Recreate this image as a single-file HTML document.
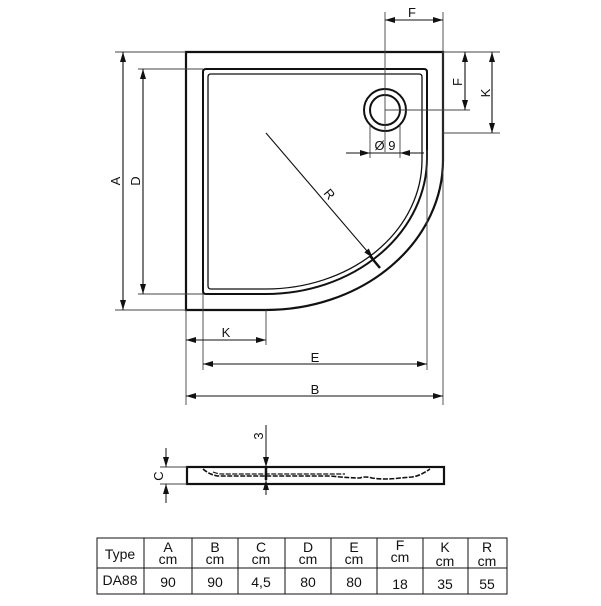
<!DOCTYPE html>
<html><head><style>
body{margin:0;background:#fff;width:601px;height:601px;overflow:hidden}
svg text{font-family:"Liberation Sans",sans-serif;fill:#111}
</style></head><body>
<svg width="601" height="601" viewBox="0 0 601 601" xmlns="http://www.w3.org/2000/svg">
<defs>
<marker id="a" markerWidth="10" markerHeight="6" refX="10" refY="3" orient="auto-start-reverse" markerUnits="userSpaceOnUse"><path d="M0,0 L10,3 L0,6 Z" fill="#111"/></marker>
</defs>
<g fill="none" stroke="#111">
<path d="M186,52 H443 V160 A177,150 0 0 1 266,310 H186 Z" stroke-width="2.2"/>
<path d="M206,69 H424 Q427,69 427,72 V158 A161,136 0 0 1 266,294 H206 Q203,294 203,291 V72 Q203,69 206,69 Z" stroke-width="2"/>
<path d="M211,74 H419 Q422,74 422,77 V160 A156,129 0 0 1 266,289 H211 Q208,289 208,286 V77 Q208,74 211,74 Z" stroke-width="1.3"/>
<circle cx="385" cy="110" r="21" stroke-width="2"/>
<circle cx="385" cy="110" r="15" stroke-width="2"/>
<g stroke-width="0.9" stroke="#444">
<line x1="115" y1="52" x2="186" y2="52"/>
<line x1="115" y1="310" x2="186" y2="310"/>
<line x1="138" y1="69" x2="203" y2="69"/>
<line x1="138" y1="294" x2="203" y2="294"/>
<line x1="385" y1="12" x2="385" y2="152"/>
<line x1="443" y1="12" x2="443" y2="405"/>
<line x1="443" y1="52" x2="500" y2="52"/>
<line x1="385" y1="110" x2="470" y2="110"/>
<line x1="443" y1="133" x2="500" y2="133"/>
<line x1="186" y1="310" x2="186" y2="405"/>
<line x1="203" y1="294" x2="203" y2="370"/>
<line x1="266" y1="310" x2="266" y2="345"/>
<line x1="427" y1="150" x2="427" y2="370"/>
<line x1="370" y1="125" x2="370" y2="158"/>
<line x1="400" y1="125" x2="400" y2="158"/>
</g>
<g stroke-width="1.1">
<line x1="123" y1="52" x2="123" y2="310" marker-start="url(#a)" marker-end="url(#a)"/>
<line x1="143" y1="69" x2="143" y2="294" marker-start="url(#a)" marker-end="url(#a)"/>
<line x1="385" y1="20" x2="443" y2="20" marker-start="url(#a)" marker-end="url(#a)"/>
<line x1="465" y1="52" x2="465" y2="110" marker-start="url(#a)" marker-end="url(#a)"/>
<line x1="492" y1="52" x2="492" y2="133" marker-start="url(#a)" marker-end="url(#a)"/>
<line x1="346" y1="153" x2="370" y2="153" marker-end="url(#a)"/>
<line x1="370" y1="153" x2="400" y2="153"/>
<line x1="424" y1="153" x2="400" y2="153" marker-end="url(#a)"/>
<line x1="186" y1="340" x2="266" y2="340" marker-start="url(#a)" marker-end="url(#a)"/>
<line x1="203" y1="364" x2="427" y2="364" marker-start="url(#a)" marker-end="url(#a)"/>
<line x1="186" y1="396" x2="443" y2="396" marker-start="url(#a)" marker-end="url(#a)"/>
<line x1="266" y1="133" x2="373" y2="258" marker-end="url(#a)"/>
<line x1="370" y1="256" x2="380" y2="268" stroke-width="2.5"/>
</g>
<rect x="187" y="467" width="257" height="17" stroke-width="2.2"/>
<path d="M203,469 Q210,475 218,476 H330 Q350,478 360,478 Q365,476 372,478 Q385,480 400,478 L412,477 Q420,476 430,469" stroke-width="1.6" stroke-dasharray="5,1.5"/>
<path d="M213,472 Q218,474 222,474 H345" stroke-width="1.2" stroke-dasharray="5,1.5"/>
<line x1="160" y1="467" x2="187" y2="467" stroke-width="0.9" stroke="#444"/>
<line x1="160" y1="484" x2="187" y2="484" stroke-width="0.9" stroke="#444"/>
<line x1="166" y1="448" x2="166" y2="467" marker-end="url(#a)"/>
<line x1="166" y1="503" x2="166" y2="484" marker-end="url(#a)"/>
<line x1="266" y1="425" x2="266" y2="467" marker-end="url(#a)"/>
<line x1="266" y1="495" x2="266" y2="480" marker-end="url(#a)"/>
<line x1="266" y1="467" x2="266" y2="480" stroke-width="2.5"/>
<rect x="97" y="538" width="410" height="56" stroke-width="1"/>
<line x1="97" y1="568" x2="507" y2="568"/>
<line x1="144" y1="538" x2="144" y2="594"/>
<line x1="192" y1="538" x2="192" y2="594"/>
<line x1="238" y1="538" x2="238" y2="594"/>
<line x1="285" y1="538" x2="285" y2="594"/>
<line x1="331" y1="538" x2="331" y2="594"/>
<line x1="377" y1="538" x2="377" y2="594"/>
<line x1="423" y1="538" x2="423" y2="594"/>
<line x1="468" y1="538" x2="468" y2="594"/>
</g>
<g font-size="13" text-anchor="middle">
<text x="412" y="17">F</text>
<text x="315" y="362">E</text>
<text x="315" y="394">B</text>
<text x="226" y="337">K</text>
<text x="385" y="150">Ø 9</text>
<text transform="translate(120,181) rotate(-90)">A</text>
<text transform="translate(140,181) rotate(-90)">D</text>
<text transform="translate(462,82) rotate(-90)">F</text>
<text transform="translate(490,93) rotate(-90)">K</text>
<text transform="translate(163,476) rotate(-90)">C</text>
<text transform="translate(263,436) rotate(-90)">3</text>
<text transform="translate(326,197) rotate(50)">R</text>
</g>
<g font-size="14" text-anchor="middle">
<text x="120" y="559">Type</text>
<text x="120" y="585">DA88</text>
<text x="168" y="552">A</text><text x="168" y="564">cm</text><text x="168" y="587">90</text>
<text x="215" y="552">B</text><text x="215" y="564">cm</text><text x="215" y="587">90</text>
<text x="261" y="552">C</text><text x="261" y="564">cm</text><text x="261" y="587">4,5</text>
<text x="308" y="552">D</text><text x="308" y="564">cm</text><text x="308" y="587">80</text>
<text x="354" y="552">E</text><text x="354" y="564">cm</text><text x="354" y="587">80</text>
<text x="400" y="550">F</text><text x="400" y="562">cm</text><text x="400" y="589">18</text>
<text x="445" y="552">K</text><text x="445" y="566">cm</text><text x="445" y="589">35</text>
<text x="487" y="552">R</text><text x="487" y="566">cm</text><text x="487" y="589">55</text>
</g>
</svg>
</body></html>
